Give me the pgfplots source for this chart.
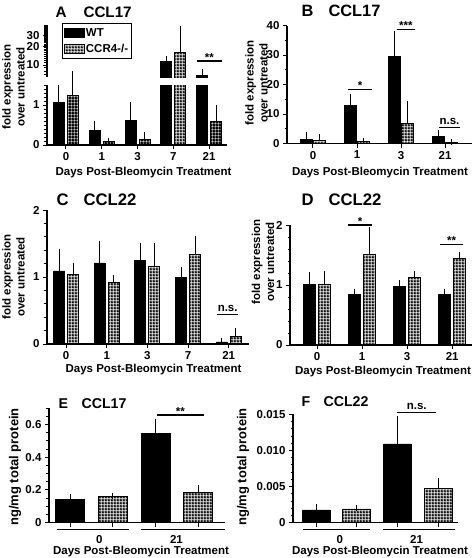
\documentclass[border=0pt]{standalone}
\usepackage{pgfplots}
\pgfplotsset{compat=1.18}
\usepackage{pgfplotstable}
\usepackage{fontspec}
\setmainfont{Liberation Sans}
\usetikzlibrary{patterns}

% black tile with white square holes (checkered look)
\pgfdeclarepatternformonly{finecheck}{\pgfqpoint{0pt}{0pt}}{\pgfqpoint{3pt}{3pt}}{\pgfqpoint{3pt}{3pt}}{%
  \pgfpathrectangle{\pgfqpoint{0pt}{0pt}}{\pgfqpoint{3pt}{3pt}}%
  \pgfpathrectangle{\pgfqpoint{0.8pt}{0.8pt}}{\pgfqpoint{1.4pt}{1.4pt}}%
  \pgfseteorule\pgfusepath{fill}}

% Panel A (fold expression, CCL17)
\pgfplotstableread{
x y e
0 1.07 0.41
1 0.36 0.16
2 0.62 0.38
3 11.3 1.1
4 6.87 0.73
}\AWT
\pgfplotstableread{
x y e
0 1.25 0.52
1 0.08 0.02
2 0.13 0.12
3 15.9 22.6
4 0.58 0.35
}\AKO
% Panel B
\pgfplotstableread{
x y e
0 1.43 1.47
1 12.8 2.8
2 29.5 7.7
3 2.3 1.2
}\BWT
\pgfplotstableread{
x y e
0 0.95 1.15
1 0.6 0.2
2 6.9 6.5
3 0.4 0.2
}\BKO
% Panel C
\pgfplotstableread{
x y e
0 1.09 0.29
1 1.21 0.28
2 1.25 0.22
3 1.00 0.11
4 0.03 0.01
}\CWT
\pgfplotstableread{
x y e
0 1.04 0.13
1 0.92 0.07
2 1.16 0.30
3 1.34 0.22
4 0.11 0.08
}\CKO
% Panel D
\pgfplotstableread{
x y e
0 1.01 0.16
1 0.84 0.05
2 0.97 0.06
3 0.84 0.05
}\DWT
\pgfplotstableread{
x y e
0 1.01 0.18
1 1.51 0.40
2 1.12 0.06
3 1.44 0.06
}\DKO
% Panel E (ng/mg, CCL17)
\pgfplotstableread{
x y e
0 0.143 0.016
2 0.545 0.067
}\EWT
\pgfplotstableread{
x y e
1 0.159 0.004
3 0.184 0.024
}\EKO
% Panel F (ng/mg, CCL22)
\pgfplotstableread{
x y e
0 0.00176 0.00044
2 0.0109 0.0034
}\FWT
\pgfplotstableread{
x y e
1 0.0019 0.0002
3 0.00477 0.00106
}\FKO

\newcommand{\tf}{\fontsize{11.5}{14}\selectfont\bfseries}
\tikzset{
  sig/.style={line width=1.2pt, black},
  star/.style={anchor=base, font=\tf, inner sep=0pt},
  ns/.style={anchor=base, font=\tf, inner sep=0pt, yshift=3pt},
}
\pgfplotsset{
  panel/.style={
    scale only axis, ybar, bar width=11pt,
    axis x line*=bottom, axis y line*=left,
    axis line style={line width=1.2pt, black},
    tick style={black, line width=1pt},
    minor tick style={black, line width=0.8pt},
    major tick length=4pt, minor tick length=2.5pt,
    tick align=outside,
    ticklabel style={font=\tf},
    /pgf/number format/assume math mode=true,
    scaled y ticks=false,
    error bars/y dir=plus, error bars/y explicit,
    error bars/error bar style={line width=1pt, black},
    error bars/error mark options={line width=1pt, black, mark size=3pt},
  },
  wt/.style={fill=black, draw=black, line width=0.8pt},
  ko/.style={pattern=finecheck, pattern color=black, draw=black, line width=0.8pt},
}

\begin{document}
\begin{tikzpicture}
\useasboundingbox (0,0) rectangle (475pt,-558pt);

% ---------------- Panel A ----------------
\begin{axis}[panel, at={(47pt,-145pt)}, anchor=south west,
  width=180pt, height=60pt,
  xmin=-0.53, xmax=4.5, ymin=0, ymax=1.5,
  xtick={0,1,2,3,4}, xticklabels={0,1,3,7,21},
  ytick={0,1},
  minor ytick={0.1,0.2,0.3,0.4,0.5,0.6,0.7,0.8,0.9,1.1,1.2,1.3,1.4,1.5}]
\addplot[wt, bar shift=-7pt] table[x=x,y=y,y error=e] {\AWT};
\addplot[ko, bar shift=7pt] table[x=x,y=y,y error=e] {\AKO};
\end{axis}
\begin{axis}[panel, hide axis, clip=false, at={(47pt,-145pt)}, anchor=south west,
  width=180pt, height=60pt,
  xmin=-0.53, xmax=4.5, ymin=0, ymax=1.5]
\addplot[ko, bar shift=7pt, restrict y to domain=0:1.5] table[x=x,y=y,y error=e] {\AKO};
\end{axis}
\begin{axis}[panel, axis x line=none, at={(47pt,-77pt)}, anchor=south west,
  width=180pt, height=52pt,
  xmin=-0.53, xmax=4.5, ymode=log, ymin=6.38, ymax=44.8,
  ytick={10,20,30}, yticklabels={10,20,30},
  minor ytick={7,8,9,11,12,13,14,15,16,17,18,19,21,22,23,24,25,26,27,28,29,31,32,33,34,35,36,37,38,39,40,41,42,43,44},
  legend style={at={(axis description cs:0.083,1.04)}, anchor=north west,
    draw=black, line width=0.8pt, font=\tf, inner xsep=2pt, inner ysep=4pt,
    row sep=5pt, nodes={inner sep=0.8pt}},
  legend cell align=left]
\addlegendimage{legend image code/.code={\draw[fill=black,draw=black] (0pt,-4.5pt) rectangle (20pt,4.5pt);}}
\addlegendentry{WT}
\addlegendimage{legend image code/.code={\draw[pattern=finecheck,draw=black] (0pt,-4.5pt) rectangle (20pt,4.5pt);}}
\addlegendentry{CCR4-/-}
\addplot[wt, bar shift=-7pt, forget plot] table[x=x,y=y,y error=e] {\AWT};
\addplot[ko, bar shift=7pt, forget plot] table[x=x,y=y,y error=e] {\AKO};
\draw[sig] (axis cs:3.66,11.6) -- (axis cs:4.36,11.6);
\node[star] at (axis cs:4.01,11.6) {**};
\end{axis}
\node[anchor=base west, font=\fontsize{15.2}{17}\selectfont\bfseries] at (52pt,-17pt) {A};
\node[anchor=base west, font=\fontsize{15.2}{17}\selectfont\bfseries] at (80pt,-17pt) {CCL17};
\node[rotate=90, align=center, font=\tf] at (13.5pt,-87pt) {fold expression\\over untreated};
\node[font=\tf] at (143.5pt,-173pt) {Days Post-Bleomycin Treatment};

% ---------------- Panel B ----------------
\begin{axis}[panel, clip=false, at={(287pt,-143.5pt)}, anchor=south west,
  width=185pt, height=118pt, bar width=11.5pt,
  xmin=-0.59, xmax=3.61, ymin=0, ymax=40,
  xtick={0,1,2,3}, xticklabels={0,1,3,21},
  ytick={0,10,20,30,40}, minor y tick num=1]
\addplot[wt, bar shift=-6.5pt] table[x=x,y=y,y error=e] {\BWT};
\addplot[ko, bar shift=6.5pt] table[x=x,y=y,y error=e] {\BKO};
\draw[sig] (axis cs:0.8,18.4) -- (axis cs:1.34,18.4);
\node[star] at (axis cs:1.07,18.4) {*};
\draw[sig] (axis cs:1.9,38.7) -- (axis cs:2.32,38.7);
\node[star] at (axis cs:2.11,38.7) {***};
\draw[sig] (axis cs:2.86,5.36) -- (axis cs:3.34,5.36);
\node[ns] at (axis cs:3.1,5.36) {n.s.};
\end{axis}
\node[anchor=base west, font=\fontsize{16.4}{18}\selectfont\bfseries] at (298pt,-16pt) {B};
\node[anchor=base west, font=\fontsize{16.4}{18}\selectfont\bfseries] at (325pt,-16pt) {CCL17};
\node[rotate=90, align=center, font=\tf] at (256.5pt,-83pt) {fold expression\\over untreated};
\node[font=\tf] at (380pt,-173pt) {Days Post-Bleomycin Treatment};

% ---------------- Panel C ----------------
\begin{axis}[panel, clip=false, at={(47pt,-344pt)}, anchor=south west,
  width=202pt, height=134pt,
  xmin=-0.47, xmax=4.5, ymin=0, ymax=2,
  xtick={0,1,2,3,4}, xticklabels={0,1,3,7,21},
  ytick={0,1,2}, minor y tick num=4]
\addplot[wt, bar shift=-7pt] table[x=x,y=y,y error=e] {\CWT};
\addplot[ko, bar shift=7pt] table[x=x,y=y,y error=e] {\CKO};
\draw[sig] (axis cs:3.71,0.443) -- (axis cs:4.24,0.443);
\node[ns] at (axis cs:3.975,0.443) {n.s.};
\end{axis}
\node[anchor=base west, font=\fontsize{16.7}{18}\selectfont\bfseries] at (53pt,-205pt) {C};
\node[anchor=base west, font=\fontsize{16.7}{18}\selectfont\bfseries] at (80pt,-205pt) {CCL22};
\node[rotate=90, align=center, font=\tf] at (13.5pt,-277pt) {fold expression\\over untreated};
\node[font=\tf] at (153.5pt,-370pt) {Days Post-Bleomycin Treatment};

% ---------------- Panel D ----------------
\begin{axis}[panel, clip=false, at={(290pt,-345pt)}, anchor=south west,
  width=182pt, height=120pt, bar width=12pt,
  xmin=-0.6, xmax=3.44, ymin=0, ymax=2,
  xtick={0,1,2,3}, xticklabels={0,1,3,21},
  ytick={0,1,2}, minor y tick num=4]
\addplot[wt, bar shift=-7.5pt] table[x=x,y=y,y error=e] {\DWT};
\addplot[ko, bar shift=7.5pt] table[x=x,y=y,y error=e] {\DKO};
\draw[sig] (axis cs:0.69,2.0) -- (axis cs:1.22,2.0);
\node[star] at (axis cs:0.955,2.0) {*};
\draw[sig] (axis cs:2.73,1.68) -- (axis cs:3.24,1.68);
\node[star] at (axis cs:2.985,1.68) {**};
\end{axis}
\node[anchor=base west, font=\fontsize{16.7}{18}\selectfont\bfseries] at (298pt,-205pt) {D};
\node[anchor=base west, font=\fontsize{16.7}{18}\selectfont\bfseries] at (325pt,-205pt) {CCL22};
\node[rotate=90, align=center, font=\tf] at (263pt,-262pt) {fold expression\\over untreated};
\node[font=\tf] at (383pt,-372pt) {Days Post-Bleomycin Treatment};

% ---------------- Panel E ----------------
\begin{axis}[panel, clip=false, at={(49pt,-522.5pt)}, anchor=south west,
  width=176pt, height=114.5pt, bar width=29pt,
  xmin=-0.5, xmax=3.63, ymin=0, ymax=0.7,
  xtick={0,1,2,3}, xticklabels={},
  ytick={0,0.2,0.4,0.6}, yticklabels={0,0.2,0.4,0.6},
  minor ytick={0.05,0.1,0.15,0.25,0.3,0.35,0.45,0.5,0.55,0.65,0.7}]
\addplot[wt, bar shift=0pt] table[x=x,y=y,y error=e] {\EWT};
\addplot[ko, bar shift=0pt] table[x=x,y=y,y error=e] {\EKO};
\draw[sig] (axis cs:2.03,0.657) -- (axis cs:3.13,0.657);
\node[star] at (axis cs:2.58,0.657) {**};
\draw[sig] ([yshift=-7pt]axis cs:-0.32,0) -- ([yshift=-7pt]axis cs:1.38,0);
\draw[sig] ([yshift=-7pt]axis cs:1.67,0) -- ([yshift=-7pt]axis cs:3.63,0);
\node[font=\tf] at ([yshift=-17pt]axis cs:0.68,0) {0};
\node[font=\tf] at ([yshift=-17pt]axis cs:2.49,0) {21};
\end{axis}
\node[anchor=base west, font=\fontsize{14.2}{16}\selectfont\bfseries] at (55pt,-408pt) {E};
\node[anchor=base west, font=\fontsize{14.2}{16}\selectfont\bfseries] at (78pt,-408pt) {CCL17};
\node[rotate=90, font=\fontsize{13}{15}\selectfont\bfseries] at (15pt,-467pt) {ng/mg total protein};
\node[font=\tf] at (141pt,-551.7pt) {Days Post-Bleomycin Treatment};

% ---------------- Panel F ----------------
\begin{axis}[panel, clip=false, at={(293pt,-522.7pt)}, anchor=south west,
  width=165pt, height=108.4pt, bar width=28pt,
  xmin=-0.57, xmax=3.49, ymin=0, ymax=0.015,
  xtick={0,1,2,3}, xticklabels={},
  ytick={0,0.005,0.01,0.015}, yticklabels={0,0.005,0.010,0.015},
  minor y tick num=4]
\addplot[wt, bar shift=0pt] table[x=x,y=y,y error=e] {\FWT};
\addplot[ko, bar shift=0pt] table[x=x,y=y,y error=e] {\FKO};
\draw[sig] (axis cs:1.99,0.01522) -- (axis cs:2.96,0.01522);
\node[ns] at (axis cs:2.475,0.01522) {n.s.};
\draw[sig] ([yshift=-7pt]axis cs:-0.32,0) -- ([yshift=-7pt]axis cs:1.32,0);
\draw[sig] ([yshift=-7pt]axis cs:1.65,0) -- ([yshift=-7pt]axis cs:3.42,0);
\node[font=\tf] at ([yshift=-17pt]axis cs:0.58,0) {0};
\node[font=\tf] at ([yshift=-17pt]axis cs:2.47,0) {21};
\end{axis}
\node[anchor=base west, font=\fontsize{14.2}{16}\selectfont\bfseries] at (298pt,-406.7pt) {F};
\node[anchor=base west, font=\fontsize{14.2}{16}\selectfont\bfseries] at (320pt,-406.7pt) {CCL22};
\node[rotate=90, font=\fontsize{13}{15}\selectfont\bfseries] at (243pt,-467pt) {ng/mg total protein};
\node[font=\tf] at (380pt,-551.7pt) {Days Post-Bleomycin Treatment};

\end{tikzpicture}
\end{document}
